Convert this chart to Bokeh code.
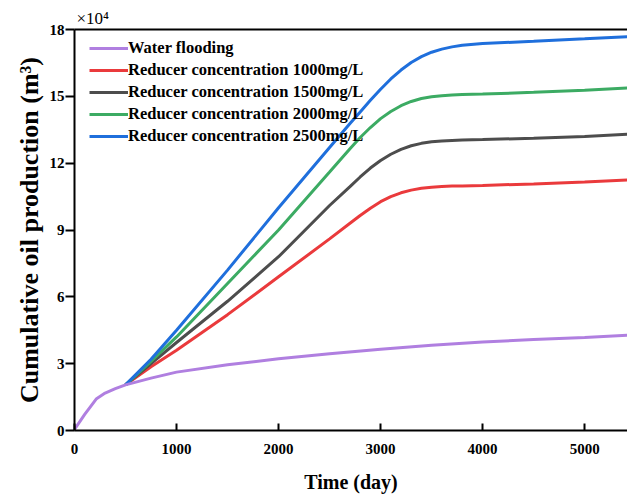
from bokeh.plotting import figure
from bokeh.models import Range1d, LinearAxis, FixedTicker, Legend, LegendItem, Title
from bokeh.embed import file_html
from bokeh.resources import INLINE

FONT = "Liberation Serif"

# ---- data (cumulative oil production, x10^4 m3) ----
days_water = [0, 100, 216, 300, 400, 500, 750, 1000, 1500, 2000, 2500, 3000, 3500, 4000, 4500, 5000, 5420]
water_flooding = [0.05, 0.72, 1.43, 1.68, 1.88, 2.05, 2.35, 2.62, 2.95, 3.22, 3.45, 3.65, 3.83, 3.97, 4.08, 4.18, 4.28]

days_reducer = [500, 750, 1000, 1500, 2000, 2500, 2700, 2800, 2900, 3000, 3100, 3200, 3300, 3400,
                3500, 3600, 3700, 3800, 4000, 4500, 5000, 5420]
conc_1000 = [2.05, 2.86, 3.6, 5.2, 6.9, 8.6, 9.3, 9.65, 9.98, 10.27, 10.5, 10.67, 10.79, 10.87,
             10.92, 10.95, 10.97, 10.98, 11.0, 11.07, 11.15, 11.25]
conc_1500 = [2.05, 3.0, 3.95, 5.8, 7.8, 10.1, 10.95, 11.38, 11.78, 12.12, 12.4, 12.62, 12.78, 12.89,
             12.96, 13.0, 13.02, 13.04, 13.06, 13.12, 13.2, 13.3]
conc_2000 = [2.05, 3.1, 4.2, 6.6, 9.0, 11.6, 12.65, 13.15, 13.6, 14.0, 14.32, 14.58, 14.77, 14.9,
             14.98, 15.03, 15.06, 15.08, 15.1, 15.18, 15.27, 15.37]
conc_2500 = [2.05, 3.2, 4.5, 7.2, 10.0, 12.7, 13.78, 14.3, 14.82, 15.32, 15.78, 16.18, 16.52, 16.78,
             16.98, 17.12, 17.22, 17.29, 17.37, 17.47, 17.58, 17.68]

labels = ["Water flooding",
          "Reducer concentration 1000mg/L",
          "Reducer concentration 1500mg/L",
          "Reducer concentration 2000mg/L",
          "Reducer concentration 2500mg/L"]
colors = ["#b07fe0", "#ea3a3c", "#4d4d4d", "#3cab63", "#1f6fdc"]

x_ticks = [0, 1000, 2000, 3000, 4000, 5000]
y_ticks = [0, 3, 6, 9, 12, 15, 18]

p = figure(width=627, height=495, output_backend="svg", toolbar_location=None,
           x_range=Range1d(0, 5420), y_range=Range1d(0, 18),
           min_border_left=74, min_border_right=0, min_border_top=29, min_border_bottom=63)
p.outline_line_color = None
p.grid.visible = False

# axes
xa = p.xaxis[0]
xa.ticker = FixedTicker(ticks=x_ticks)
xa.minor_tick_line_color = None
xa.major_tick_in = 7
xa.major_tick_out = 0
xa.axis_line_width = 2
xa.major_tick_line_width = 2
xa.major_label_text_font = FONT
xa.major_label_text_font_style = "bold"
xa.major_label_text_font_size = "15px"
xa.major_label_text_color = "black"
xa.major_label_standoff = 13
xa.axis_label = "Time (day)"
xa.axis_label_text_font = FONT
xa.axis_label_text_font_style = "bold"
xa.axis_label_text_font_size = "20px"
xa.axis_label_text_color = "black"
xa.axis_label_standoff = 14

ya = p.yaxis[0]
ya.ticker = FixedTicker(ticks=y_ticks)
ya.minor_tick_line_color = None
ya.major_tick_in = 0
ya.major_tick_out = 9
ya.axis_line_width = 2
ya.major_tick_line_width = 2
ya.major_label_text_font = FONT
ya.major_label_text_font_style = "bold"
ya.major_label_text_font_size = "15px"
ya.major_label_text_color = "black"
ya.major_label_standoff = 1

top = LinearAxis(ticker=FixedTicker(ticks=[]), axis_line_width=2,
                 major_tick_line_color=None, minor_tick_line_color=None,
                 major_label_text_font_size="0px")
p.add_layout(top, "above")

# multiplier and y title as titles
p.add_layout(Title(text="×10⁴", align="left", offset=2, text_font=FONT,
                   text_font_style="normal", text_font_size="17px", text_color="black",
                   standoff=3), "above")
p.add_layout(Title(text="Cumulative oil production (m³)", align="center", offset=-8,
                   text_font=FONT, text_font_style="bold", text_font_size="26px",
                   text_color="black", standoff=5), "left")

# lines
series = [conc_1000, conc_1500, conc_2000, conc_2500]
renderers = {}
for i, vals in enumerate(series):
    renderers[i + 1] = p.line(days_reducer, vals, line_color=colors[i + 1], line_width=3)
renderers[0] = p.line(days_water, water_flooding, line_color=colors[0], line_width=3)

items = [LegendItem(label=labels[i], renderers=[renderers[i]]) for i in range(5)]
legend = Legend(items=items, location=(15, 284), glyph_width=39, glyph_height=20,
                label_height=20, spacing=2, label_standoff=0, padding=0, margin=0,
                border_line_color=None, background_fill_alpha=0,
                label_text_font=FONT, label_text_font_style="bold", label_text_font_size="16.5px",
                label_text_color="black")
p.add_layout(legend)

open("out.html", "w").write(file_html(p, INLINE))
